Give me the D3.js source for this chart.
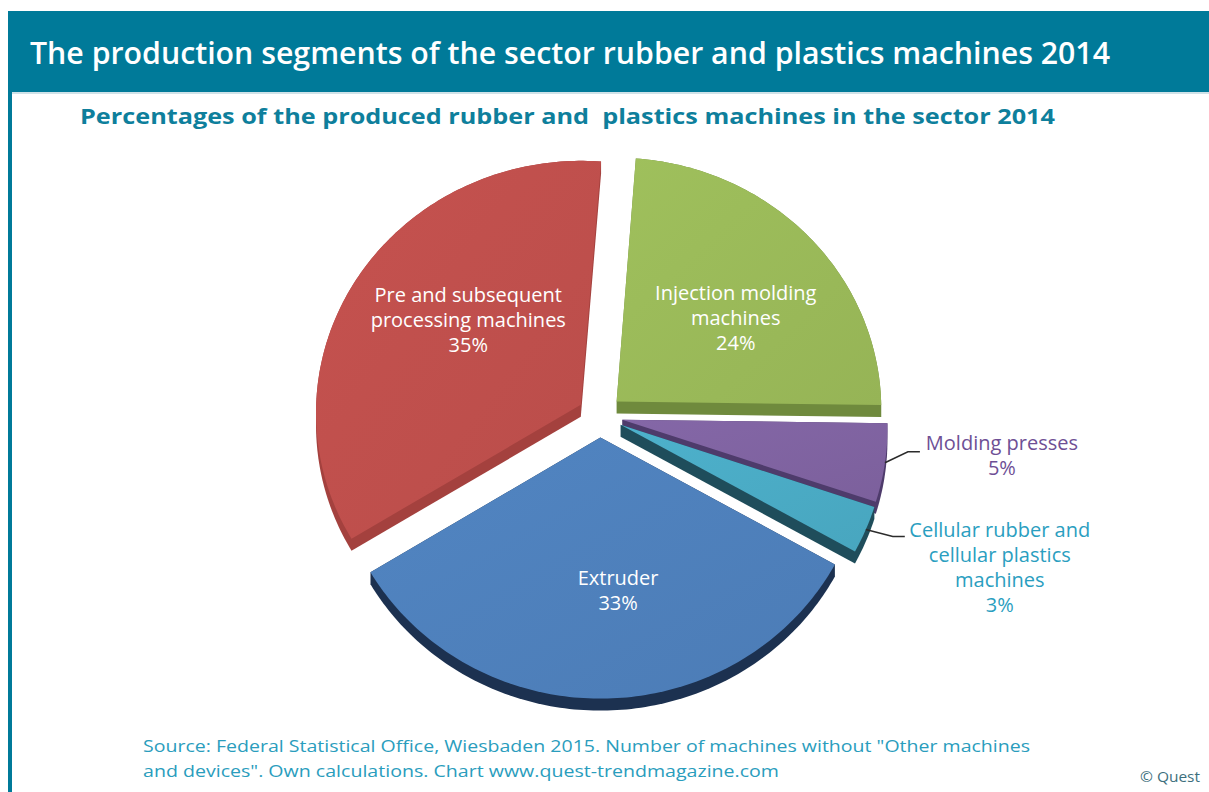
<!DOCTYPE html>
<html>
<head>
<meta charset="utf-8">
<script src="https://cdn.jsdelivr.net/npm/d3@7"></script>
<style>
  body { margin: 0; background: #fff; }
  svg { display: block; }
  text { font-family: "Open Sans", "Noto Sans", sans-serif; }
</style>
</head>
<body>
<svg id="chart"></svg>
<script>
// data
let categories = ["Injection molding machines", "Molding presses", "Cellular rubber and cellular plastics machines", "Extruder", "Pre and subsequent processing machines"];
let shares = [24, 5, 3, 33, 35];
let labelLines = [["Injection molding", "machines"], ["Molding presses"], ["Cellular rubber and", "cellular plastics", "machines"], ["Extruder"], ["Pre and subsequent", "processing machines"]];
let titleText = "The production segments of the sector rubber and plastics machines 2014";
let subtitleText = "Percentages of the produced rubber and  plastics machines in the sector 2014";
let sourceLines = ["Source: Federal Statistical Office, Wiesbaden 2015. Number of machines without \"Other machines", "and devices\". Own calculations. Chart www.quest-trendmagazine.com"];
let copyrightText = "\u00a9 Quest";

// styles
let topColors = ["#9bbb59", "#8064a2", "#4bacc6", "#4f81bd", "#c0504d"];
let sideColors = ["#6f8a3d", "#4e3b6b", "#1f4d5b", "#1c3150", "#a4413e"];
let outsideColors = [null, "#6e4f95", "#2a9ec0", null, null];

let width = 1209;
let height = 792;
let cx = 600, cy = 416, rx = 265, ry = 252;
let persp = 0.03;   // mild perspective: near side bigger
let depth = 12;     // thickness of the 3d pie
let explode = 0.085;
let rad = Math.PI / 180;

// label layout: inside labels by angle nudge / radius, outside ones by leader
let inside = { 0: { da: 6, r: 0.566 }, 3: { da: -5.3, r: 0.597 }, 4: { da: 7, r: 0.549 } };
let outside = {
  1: { elbow: [23, -11], len: 12, dx: 82, dy: -2 },
  2: { elbow: [27, 7], len: 12, dx: 95, dy: 0 }
};

let svg = d3.select("#chart").attr("width", width).attr("height", height);

let xScale = d3.scaleLinear().domain([-1, 1]).range([cx - rx, cx + rx]);
let yScale = d3.scaleLinear().domain([-1, 1]).range([cy - ry, cy + ry]);

let project = (u, v) => {
  let s = 1 / (1 - persp * v);
  return [xScale(u * s), yScale(v * s)];
};

let pie = d3.pie().sort(null).value(d => d)
  .startAngle(4.4 * rad).endAngle(4.4 * rad + 2 * Math.PI);
let arcs = pie(shares);

arcs.forEach(a => {
  a.mid = (a.startAngle + a.endAngle) / 2;
  a.off = [explode * Math.sin(a.mid), -explode * Math.cos(a.mid)];
  let pts = [project(a.off[0], a.off[1])];
  let n = Math.max(4, Math.ceil((a.endAngle - a.startAngle) / rad));
  for (let i = 0; i <= n; i++) {
    let t = a.startAngle + (a.endAngle - a.startAngle) * i / n;
    pts.push(project(Math.sin(t) + a.off[0], -Math.cos(t) + a.off[1]));
  }
  a.face = pts;
});

let polar = (a, ang, r) => project(r * Math.sin(ang) + a.off[0], -r * Math.cos(ang) + a.off[1]);

// header
svg.append("rect").attr("x", 8).attr("y", 11).attr("width", width - 8).attr("height", 81).attr("fill", "#007a99");
svg.append("rect").attr("x", 8).attr("y", 92).attr("width", width - 8).attr("height", 2).attr("fill", "#cfe2e8");
svg.append("rect").attr("x", 8).attr("y", 92).attr("width", 4).attr("height", height - 92).attr("fill", "#007a99");

svg.append("text").attr("x", 30).attr("y", 64)
  .attr("fill", "#fff").attr("font-size", 30).attr("font-weight", 600)
  .attr("textLength", 1080).attr("lengthAdjust", "spacingAndGlyphs")
  .text(titleText);

svg.append("text").attr("x", 80).attr("y", 124)
  .attr("fill", "#0e7f9c").attr("font-size", 22).attr("font-weight", "bold")
  .style("white-space", "pre")
  .attr("textLength", 975).attr("lengthAdjust", "spacingAndGlyphs")
  .text(subtitleText);

// gradients for the top faces
let defs = svg.append("defs");
arcs.forEach((a, i) => {
  let g = defs.append("linearGradient").attr("id", "top" + i)
    .attr("x1", "0%").attr("y1", "0%").attr("x2", "100%").attr("y2", "100%");
  g.append("stop").attr("offset", "0%").attr("stop-color", d3.color(topColors[i]).brighter(0.08));
  g.append("stop").attr("offset", "100%").attr("stop-color", d3.color(topColors[i]).darker(0.1));
});

let line = d3.line().curve(d3.curveLinearClosed);

// sides: hull of top face and its copy shifted down
svg.append("g").selectAll("path").data(arcs).enter().append("path")
  .attr("d", a => line(d3.polygonHull(a.face.concat(a.face.map(p => [p[0], p[1] + depth])))))
  .attr("fill", (a, i) => sideColors[i]);

svg.append("g").selectAll("path").data(arcs).enter().append("path")
  .attr("d", a => line(a.face))
  .attr("fill", (a, i) => "url(#top" + i + ")");

// inside labels
let fs = 20, lh = 25;
arcs.forEach((a, i) => {
  if (inside[i]) {
    let p = polar(a, a.mid + inside[i].da * rad, inside[i].r);
    let lines = labelLines[i].concat([shares[i] + "%"]);
    let t = svg.append("text").attr("text-anchor", "middle").attr("fill", "#fff").attr("font-size", fs);
    lines.forEach((s, k) => {
      t.append("tspan").attr("x", p[0])
        .attr("y", p[1] - (lines.length - 1) / 2 * lh + 0.35 * fs + k * lh)
        .text(s);
    });
  } else if (outside[i]) {
    let o = outside[i];
    let p0 = polar(a, a.mid, 1);
    let p1 = [p0[0] + o.elbow[0], p0[1] + o.elbow[1]];
    let p2 = [p1[0] + o.len, p1[1]];
    svg.append("path").attr("d", d3.line()([p0, p1, p2]))
      .attr("fill", "none").attr("stroke", "#2b2b2b").attr("stroke-width", 1.5);
    let lines = labelLines[i].concat([shares[i] + "%"]);
    let t = svg.append("text").attr("text-anchor", "middle").attr("fill", outsideColors[i]).attr("font-size", fs);
    lines.forEach((s, k) => {
      t.append("tspan").attr("x", p2[0] + o.dx).attr("y", p2[1] + o.dy + k * lh).text(s);
    });
  }
});

// footer
svg.append("text").attr("x", 143).attr("y", 752)
  .attr("fill", "#2a9dbd").attr("font-size", 17)
  .attr("textLength", 887).attr("lengthAdjust", "spacingAndGlyphs")
  .text(sourceLines[0]);
svg.append("text").attr("x", 143).attr("y", 777)
  .attr("fill", "#2a9dbd").attr("font-size", 17)
  .attr("textLength", 636).attr("lengthAdjust", "spacingAndGlyphs")
  .text(sourceLines[1]);
svg.append("text").attr("x", 1140).attr("y", 782)
  .attr("fill", "#3d6f7d").attr("font-size", 15)
  .attr("textLength", 60).attr("lengthAdjust", "spacingAndGlyphs")
  .text(copyrightText);
</script>
</body>
</html>
